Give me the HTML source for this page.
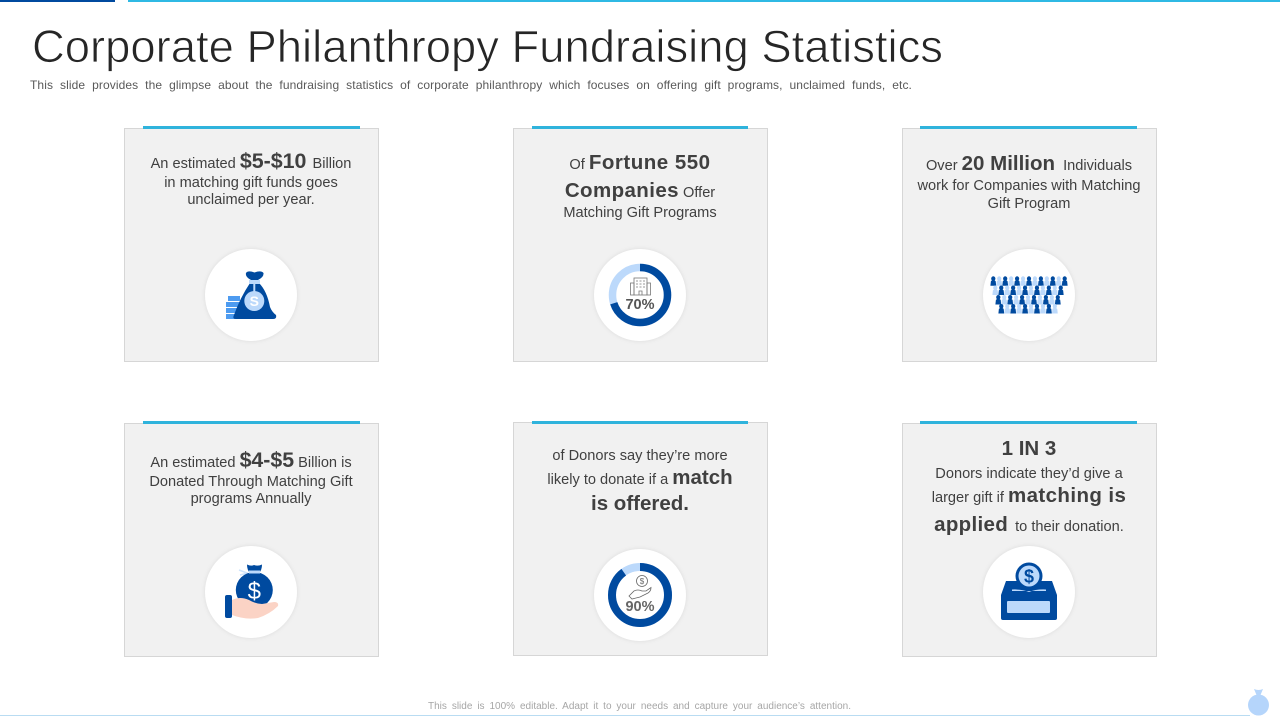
<!DOCTYPE html>
<html lang="en">
<head>
<meta charset="utf-8">
<title>Corporate Philanthropy Fundraising Statistics</title>
<style>
html,body{margin:0;padding:0;background:#fff;width:1280px;height:720px;overflow:hidden}
svg{display:block;position:absolute;left:0;top:0}
text{font-family:"Liberation Sans",Arial,sans-serif}
.card{fill:#f1f1f1;stroke:#d6d6d6;stroke-width:1}
.bar{fill:#2fb3dc}
.disc{fill:#fff;filter:drop-shadow(0 0 2px rgba(0,0,0,.09))}
.t{font-size:14.6px;fill:#404040;text-anchor:middle}
.b{font-size:20.5px;font-weight:700;fill:#404040}
</style>
</head>
<body>
<svg id="slide" width="1280" height="720" viewBox="0 0 1280 720" xmlns="http://www.w3.org/2000/svg">
  <rect x="0" y="0" width="115" height="2" fill="#004a9f"/>
  <rect x="128" y="0" width="1152" height="2" fill="#2fb9e4"/>

  <text x="32" y="62" font-size="45" fill="#262626" stroke="#fff" stroke-width=".8" textLength="911" lengthAdjust="spacingAndGlyphs">Corporate Philanthropy Fundraising Statistics</text>
  <text id="subtitle" x="30" y="89" font-size="12" fill="#595959" letter-spacing=".1">This slide provides the glimpse about the fundraising statistics of corporate philanthropy which focuses on offering gift programs, unclaimed funds, etc.</text>

  <!-- Cards -->
  <g>
    <rect class="card" x="124.500" y="128.500" width="254" height="233"/>
    <rect class="bar" x="143" y="126" width="217" height="3"/>
    <text class="t" x="251" y="168">An estimated <tspan class="b" style="font-size:21.4px">$5-$10</tspan> <tspan dx="2">Billion</tspan></text>
    <text class="t" x="251" y="187">in matching gift funds goes</text>
    <text class="t" x="251" y="204">unclaimed per year.</text>
    <circle class="disc" cx="251" cy="295" r="46"/>
    <g>
      <g fill="#4d9bf0">
        <rect x="228" y="296" width="12" height="5"/>
        <rect x="226" y="302" width="14" height="5"/>
        <rect x="226" y="308" width="14" height="5"/>
        <rect x="226" y="314" width="14" height="5"/>
      </g>
      <path d="M246 273 Q248 270 254.500 272.500 Q261 270 263.500 273 Q264 277 258 280 L251 280 Q245 277 246 273Z" fill="#004a9f"/>
      <path d="M250 283 L259 283 Q267 291 270 307 Q272 312 276 315 Q277 319 273 319 L236 319 Q232 319 234 315 Q240 298 250 283Z" fill="#004a9f"/>
      <rect x="249" y="280" width="11" height="4" fill="#bcd9fb"/>
      <rect x="253.300" y="284" width="2" height="9" fill="#bcd9fb"/>
      <circle cx="254.300" cy="301" r="10" fill="#bcd9fb"/>
      <text x="254.300" y="306" font-size="14" font-weight="700" fill="#fff" text-anchor="middle">S</text>
    </g>
  </g>

  <g>
    <rect class="card" x="513.500" y="128.500" width="254" height="233"/>
    <rect class="bar" x="532" y="126" width="216" height="3"/>
    <text class="t" x="640" y="169">Of <tspan class="b" letter-spacing=".5">Fortune 550</tspan></text>
    <text class="t" x="640" y="197"><tspan class="b" letter-spacing=".4">Companies</tspan> Offer</text>
    <text class="t" x="640" y="217">Matching Gift Programs</text>
    <circle class="disc" cx="640" cy="295" r="46"/>
    <g id="donut-a"></g>
    <g fill="none" stroke="#777" stroke-width=".8">
      <rect x="634" y="278" width="13" height="17"/>
      <rect x="630.500" y="283" width="3.500" height="12"/>
      <rect x="647" y="283" width="3.500" height="12"/>
      <path d="M636 281h2M639.500 281h2M643 281h2M636 284h2M639.500 284h2M643 284h2M636 287h2M639.500 287h2M643 287h2M639 295v-4h3v4"/>
    </g>
    <text id="donut-a-label" x="640" y="309" font-size="14.500" font-weight="700" fill="#555" text-anchor="middle"></text>
  </g>

  <g>
    <rect class="card" x="902.500" y="128.500" width="254" height="233"/>
    <rect class="bar" x="920" y="126" width="217" height="3"/>
    <text class="t" x="1029" y="170">Over <tspan class="b">20 Million</tspan> <tspan dx="4">Individuals</tspan></text>
    <text class="t" x="1029" y="190">work for Companies with Matching</text>
    <text class="t" x="1029" y="208">Gift Program</text>
    <circle class="disc" cx="1029" cy="295" r="46"/>
    <g id="people-icon"></g>
  </g>

  <g>
    <rect class="card" x="124.500" y="423.500" width="254" height="233"/>
    <rect class="bar" x="143" y="421" width="217" height="3"/>
    <text class="t" x="251" y="467">An estimated <tspan class="b" style="font-size:21.3px">$4-$5</tspan> Billion is</text>
    <text class="t" x="251" y="486">Donated Through Matching Gift</text>
    <text class="t" x="251" y="503">programs Annually</text>
    <circle class="disc" cx="251" cy="592" r="46"/>
    <g>
      <path d="M239 570 L247 573 M240 575 L248 573" stroke="#cfe3fb" stroke-width="1.500" fill="none"/>
      <path d="M247 564.500 Q251 566.500 254 565 Q258 566.500 262 564.500 Q262 570 259 573 L250 573 Q247 570 247 564.500Z" fill="#004a9f"/>
      <ellipse cx="254.300" cy="590" rx="18.500" ry="18" fill="#004a9f"/>
      <rect x="249" y="570.500" width="11" height="3" fill="#bcd9fb"/>
      <text x="254.300" y="599" font-size="24" fill="#fff" text-anchor="middle">$</text>
      <path d="M232 600 Q240 596 249 600 Q256 604 262 604 L274 602 Q279 602 278 606 Q270 614 258 618 Q245 620 232 615Z" fill="#fbd3c5"/>
      <rect x="225" y="595" width="7" height="23" rx="2" fill="#004a9f"/>
    </g>
  </g>

  <g>
    <rect class="card" x="513.500" y="422.500" width="254" height="233"/>
    <rect class="bar" x="532" y="421" width="216" height="3"/>
    <text class="t" x="640" y="460">of Donors say they’re more</text>
    <text class="t" x="640" y="484">likely to donate if a <tspan class="b">match</tspan></text>
    <text class="t" x="640" y="510"><tspan class="b">is offered.</tspan></text>
    <circle class="disc" cx="640" cy="595" r="46"/>
    <g id="donut-b"></g>
    <g fill="none" stroke="#666" stroke-width=".8">
      <circle cx="642" cy="581" r="5.500"/>
      <path d="M629 596 L634 591 Q638 589 642 591 L646 591 L651 587.500 Q651 591 648 593 L640 597 L632 599Z"/>
    </g>
    <text x="642" y="584" font-size="8" fill="#666" text-anchor="middle">$</text>
    <text id="donut-b-label" x="640" y="611" font-size="14.500" font-weight="700" fill="#666" text-anchor="middle"></text>
  </g>

  <g>
    <rect class="card" x="902.500" y="423.500" width="254" height="233"/>
    <rect class="bar" x="920" y="421" width="217" height="3"/>
    <text class="t" x="1029" y="455"><tspan class="b">1 IN 3</tspan></text>
    <text class="t" x="1029" y="478">Donors indicate they’d give a</text>
    <text class="t" x="1029" y="502">larger gift if <tspan class="b" letter-spacing=".4">matching is</tspan></text>
    <text class="t" x="1029" y="531"><tspan class="b" letter-spacing=".3">applied</tspan> <tspan dx="3">to their donation.</tspan></text>
    <circle class="disc" cx="1029" cy="592" r="46"/>
    <g>
      <path d="M1006 581 H1052 L1057 595 V618 Q1057 620 1055 620 H1003 Q1001 620 1001 618 V595Z" fill="#004a9f"/>
      <path d="M1012 589.500 Q1022 589 1029 592 Q1036 589 1046 589.500 L1046 591 H1012Z" fill="#bcd9fb"/>
      <circle cx="1029" cy="576" r="13.500" fill="#004a9f"/>
      <circle cx="1029" cy="576" r="10.500" fill="#bcd9fb"/>
      <text x="1029" y="582.500" font-size="18" font-weight="700" fill="#004a9f" text-anchor="middle">$</text>
      <rect x="1007" y="601" width="43" height="12" rx="1" fill="#bcd9fb"/>
    </g>
  </g>

  <!-- Footer -->
  <text id="footer-note" x="428" y="709" font-size="10" fill="#a6a6a6">This slide is 100% editable. Adapt it to your needs and capture your audience’s attention.</text>
  <rect x="0" y="715" width="1250" height="1" fill="#b9dcf2"/>
  <g fill="#b5d5fb">
    <path d="M1254 689 Q1258.500 691 1263 689 L1260.500 695 H1256.500Z"/>
    <ellipse cx="1258.500" cy="705" rx="10.500" ry="10.500"/>
  </g>
</svg>
<script>
// Donut values (percent filled)
const donutValues = [70, 90];
const donutIds = ['donut-a', 'donut-b'];
const labelIds = ['donut-a-label', 'donut-b-label'];
const donutCenterX = [640, 640];
const donutCenterY = [295, 595];
const donutRadius = [27.5, 28];
const donutWidth = [7.5, 8];

const SVG_NS = 'http://www.w3.org/2000/svg';

function arcLength(r, percent) {
  return 2 * Math.PI * r * percent / 100;
}

donutValues.forEach(function (value, i) {
  const group = document.getElementById(donutIds[i]);
  const r = donutRadius[i];
  const circumference = arcLength(r, 100);

  const track = document.createElementNS(SVG_NS, 'circle');
  
  
  track.setAttribute('cx', donutCenterX[i]);
  track.setAttribute('cy', donutCenterY[i]);
  track.setAttribute('r', r);
  track.setAttribute('fill', 'none');
  track.setAttribute('stroke', '#bcd9fb');
  track.setAttribute('stroke-width', donutWidth[i]);
  group.appendChild(track);

  const arc = document.createElementNS(SVG_NS, 'circle');
  
  
  arc.setAttribute('cx', donutCenterX[i]);
  arc.setAttribute('cy', donutCenterY[i]);
  arc.setAttribute('r', r);
  arc.setAttribute('fill', 'none');
  arc.setAttribute('stroke', '#004a9f');
  arc.setAttribute('stroke-width', donutWidth[i]);
  arc.setAttribute('stroke-dasharray', arcLength(r, value) + ' ' + circumference);
  arc.setAttribute('transform', 'rotate(-90 ' + donutCenterX[i] + ' ' + donutCenterY[i] + ')');
  group.appendChild(arc);

  document.getElementById(labelIds[i]).textContent = value + '%';
});

// People pictogram: D = dark figure, L = light figure
const peopleRows = ['DLDLDLDLDLDLD', 'LDLDLDLDLDLD', 'DLDLDLDLDLD', 'DLDLDLDLDL'];
const peopleStartX = [993.3, 995.3, 998.3, 1001.3];
const peopleRowY = [281.3, 290.5, 300, 309];
const peopleStep = 5.95;

const peopleGroup = document.getElementById('people-icon');
peopleRows.forEach(function (row, rowIndex) {
  row.split('').forEach(function (kind, colIndex) {
    const x = peopleStartX[rowIndex] + colIndex * peopleStep;
    const y = peopleRowY[rowIndex];
    const person = document.createElementNS(SVG_NS, 'path');
    
    
    person.setAttribute('d', 'M' + x + ' ' + (y - 5) + 'a2.1 2.3 0 1 1 -0.01 0Z' +
      'M' + (x - 2.9) + ' ' + (y + 4.5) + 'l0.5 -4.6q0.8 -1 2.4 -1.2q1.6 0.2 2.4 1.2l0.5 4.6Z');
    person.setAttribute('fill', kind === 'D' ? '#004a9f' : '#bcd9fb');
    peopleGroup.appendChild(person);
  });
});

// Fit the one-line captions to their measured widths using word spacing only
function fitWords(id, target) {
  const el = document.getElementById(id);
  const spaces = el.textContent.split(' ').length - 1;
  const extra = (target - el.getComputedTextLength()) / spaces;
  el.style.wordSpacing = extra + 'px';
}
fitWords('subtitle', 882);
fitWords('footer-note', 423);
</script>
</body>
</html>
